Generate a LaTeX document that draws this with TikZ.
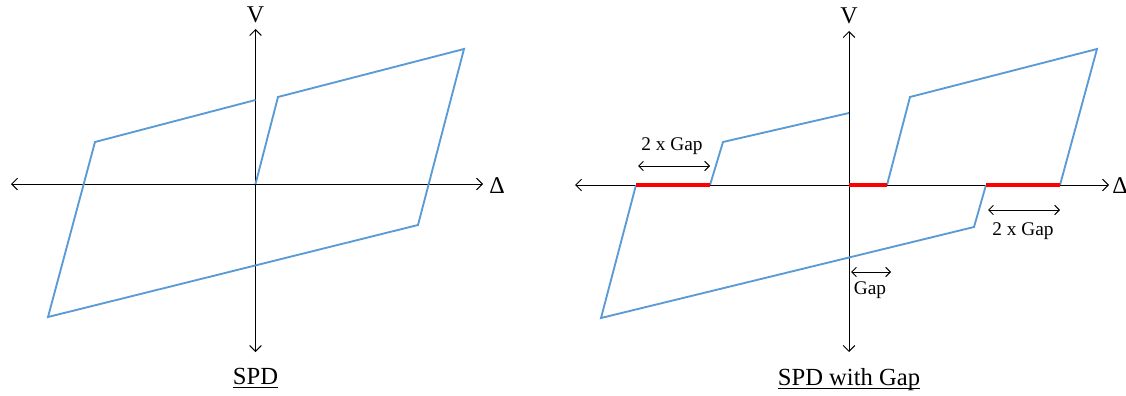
\documentclass[tikz,border=0pt]{standalone}
\usepackage{amsmath}
\usepackage{fontspec}
\setmainfont{Liberation Serif}
\usepackage{tikz}
\usetikzlibrary{arrows.meta,positioning,calc}
\definecolor{spdblue}{HTML}{5B9BD5}
\definecolor{gapred}{HTML}{FF0000}

\begin{document}
\begin{tikzpicture}[
  x=0.03cm, y=-0.03cm,
  axis/.style={draw=black, line width=0.8pt, {Straight Barb[length=5pt,width=10pt]}-{Straight Barb[length=5pt,width=10pt]}},
  dimarrow/.style={draw=black, line width=0.8pt, {Straight Barb[length=4pt,width=8pt]}-{Straight Barb[length=4pt,width=8pt]}},
  hyst/.style={draw=spdblue, line width=1.6pt, line join=miter},
  gapline/.style={draw=gapred, line width=2.6pt},
  axlabel/.style={font=\fontsize{20.5}{24}\selectfont, inner sep=0pt},
  dimlabel/.style={font=\fontsize{16.5}{19}\selectfont, inner sep=0pt},
  plottitle/.style={font=\fontsize{21}{25}\selectfont, anchor=base, inner sep=0pt},
]
\useasboundingbox (0,0) rectangle (1126,396);
% coordinates are in pixels of the original figure (y downward)

% ---- left: SPD ----
\foreach \n/\x/\y in {
  O1/255.5/184, w1/11/184, e1/483/184, n1/255.5/29, s1/255.5/352,
  a1/278/97, a2/464/49, a3/418/225, a4/48/317, a5/95/142, a6/255.5/100
} {
  \coordinate (\n) at (\x,\y);
}
\draw[axis] (w1) -- (e1);
\draw[axis] (s1) -- (n1);
\node[axlabel] (v1) at (255.5,15) {V};
\node[axlabel] (d1) at (497,186) {Δ};
\draw[hyst] (O1) -- (a1) -- (a2) -- (a3) -- (a4) -- (a5) -- (a6);
\node[plottitle] (t1) at (255.5,384) {\underline{SPD}};

% ---- right: SPD with Gap ----
\foreach \n/\x/\y in {
  O2/849/185, w2/575/185, e2/1109/185, n2/849/31, s2/849/352,
  b1/887/185, b2/910/97, b3/1097/49, b4/1060/185, b5/986/185,
  b6/974/227, b7/601/318, b8/636/185, b9/710/185, b10/723/142, b11/849/113
} {
  \coordinate (\n) at (\x,\y);
}
\draw[axis] (w2) -- (e2);
\draw[axis] (s2) -- (n2);
\node[axlabel] (v2) at (849,16) {V};
\node[axlabel] (d2) at (1120,186) {Δ};
\draw[hyst] (b1) -- (b2) -- (b3) -- (b4);
\draw[hyst] (b5) -- (b6) -- (b7) -- (b8);
\draw[hyst] (b9) -- (b10) -- (b11);
% gap plateaus
\draw[gapline] (O2) -- (b1);
\draw[gapline] (b5) -- (b4);
\draw[gapline] (b8) -- (b9);

% gap dimensions
\foreach \n/\xa/\xb/\y in {g1/638/710/166, g2/988/1060/210, g3/851/891/272} {
  \coordinate (\n l) at (\xa,\y);
  \coordinate (\n r) at (\xb,\y);
  \draw[dimarrow] (\n l) -- (\n r);
}
\node[dimlabel] (lg1) at (672,146) {2 x Gap};
\node[dimlabel] (lg2) at (1023,231) {2 x Gap};
\node[dimlabel] (lg3) at (870,290) {Gap};
\node[plottitle] (t2) at (849,385) {\underline{\smash[b]{SPD with Gap}}};
\end{tikzpicture}
\end{document}
